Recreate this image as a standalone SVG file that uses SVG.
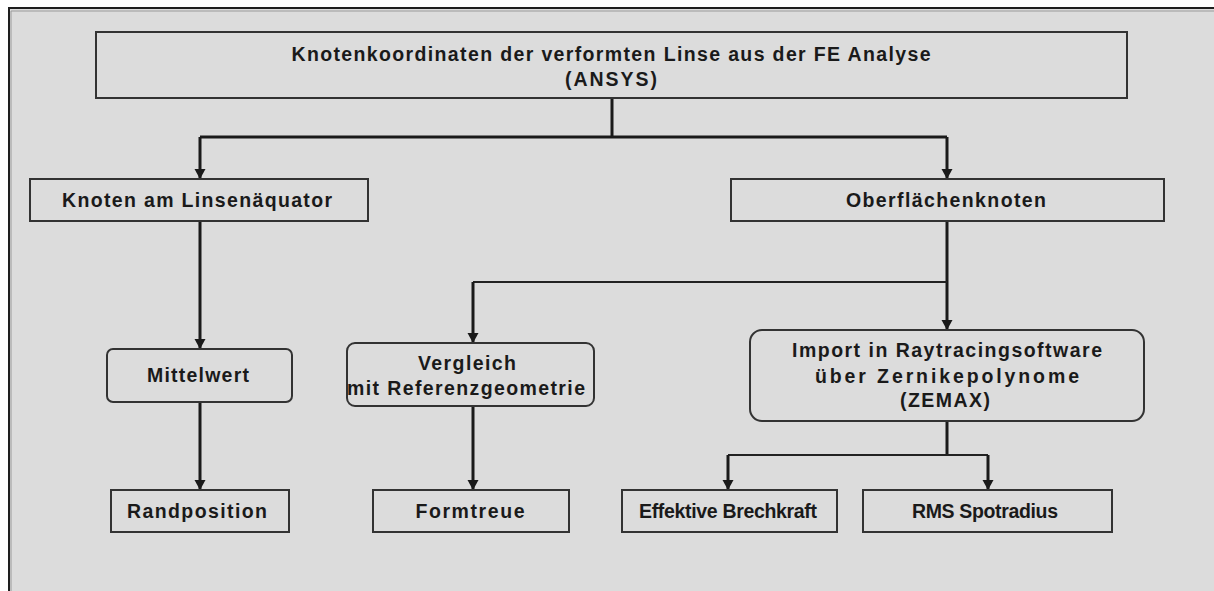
<svg xmlns="http://www.w3.org/2000/svg" width="1214" height="591" viewBox="0 0 1214 591">
<style>
.box{fill:#dcdcdc;stroke:#333;stroke-width:2}
.t{font-family:"Liberation Sans",Arial,sans-serif;font-weight:bold;font-size:19.5px;fill:#1a1a1a;text-anchor:middle}
.c{fill:none;stroke:#1a1a1a;stroke-width:3}
.c2{fill:none;stroke:#222;stroke-width:2}
</style>
<defs>
<marker id="ah" markerUnits="userSpaceOnUse" markerWidth="14" markerHeight="14" viewBox="0 0 14 14" refX="11" refY="7" orient="auto">
<path d="M1,1.5 L11,7 L1,12.5 Z" fill="#1a1a1a"/>
</marker>
</defs>
<rect x="0" y="0" width="1214" height="591" fill="#ffffff"/>
<rect x="9" y="8" width="1220" height="600" fill="#dcdcdc" stroke="#1e1e1e" stroke-width="2"/>
<path d="M11,600 V11 H1214" fill="none" stroke="#9a9a9a" stroke-width="1"/>

<g id="connectors">
<path class="c" d="M612,98 V137"/>
<path class="c" d="M200,137 H947"/>
<path class="c" d="M200,137 V179" marker-end="url(#ah)"/>
<path class="c" d="M947,137 V179" marker-end="url(#ah)"/>
<path class="c" d="M200,221 V349" marker-end="url(#ah)"/>
<path class="c" d="M947,221 V330" marker-end="url(#ah)"/>
<path class="c2" d="M947,282 H473"/>
<path class="c" d="M473,282 V343" marker-end="url(#ah)"/>
<path class="c" d="M200,402 V490" marker-end="url(#ah)"/>
<path class="c" d="M473,406 V490" marker-end="url(#ah)"/>
<path class="c" d="M947,421 V455"/>
<path class="c2" d="M728,455 H988"/>
<path class="c" d="M728,455 V490" marker-end="url(#ah)"/>
<path class="c" d="M988,455 V490" marker-end="url(#ah)"/>
</g>

<g id="n_top">
<rect class="box" x="96" y="32" width="1031" height="66"/>
<text class="t" x="611" y="61" textLength="639" lengthAdjust="spacing">Knotenkoordinaten der verformten Linse aus der FE Analyse</text>
<text class="t" x="611" y="86" textLength="92" lengthAdjust="spacing">(ANSYS)</text>
</g>
<g id="n_aequator">
<rect class="box" x="30" y="179" width="338" height="42"/>
<text class="t" x="197" y="207" textLength="270" lengthAdjust="spacing">Knoten am Linsenäquator</text>
</g>
<g id="n_oberflaeche">
<rect class="box" x="731" y="179" width="433" height="42"/>
<text class="t" x="946" y="207" textLength="200" lengthAdjust="spacing">Oberflächenknoten</text>
</g>
<g id="n_mittelwert">
<rect class="box" x="107" y="349" width="185" height="53" rx="6"/>
<text class="t" x="198" y="382" textLength="102" lengthAdjust="spacing">Mittelwert</text>
</g>
<g id="n_vergleich">
<rect class="box" x="347" y="343" width="247" height="63" rx="8"/>
<text class="t" x="467" y="370" textLength="98" lengthAdjust="spacing">Vergleich</text>
<text class="t" x="466" y="395" textLength="238" lengthAdjust="spacing">mit Referenzgeometrie</text>
</g>
<g id="n_import">
<rect class="box" x="750" y="330" width="394" height="91" rx="12"/>
<text class="t" x="947" y="357" textLength="310" lengthAdjust="spacing">Import in Raytracingsoftware</text>
<text class="t" x="947" y="383" textLength="264" lengthAdjust="spacing">über Zernikepolynome</text>
<text class="t" x="945" y="407" textLength="90" lengthAdjust="spacing">(ZEMAX)</text>
</g>
<g id="n_rand">
<rect class="box" x="111" y="490" width="178" height="42"/>
<text class="t" x="197" y="518" textLength="140" lengthAdjust="spacing">Randposition</text>
</g>
<g id="n_form">
<rect class="box" x="373" y="490" width="196" height="42"/>
<text class="t" x="470" y="518" textLength="109" lengthAdjust="spacing">Formtreue</text>
</g>
<g id="n_brech">
<rect class="box" x="622" y="490" width="215" height="42"/>
<text class="t" x="728" y="518" textLength="178" lengthAdjust="spacing">Effektive Brechkraft</text>
</g>
<g id="n_rms">
<rect class="box" x="863" y="490" width="249" height="42"/>
<text class="t" x="985" y="518" textLength="146" lengthAdjust="spacing">RMS Spotradius</text>
</g>
</svg>
